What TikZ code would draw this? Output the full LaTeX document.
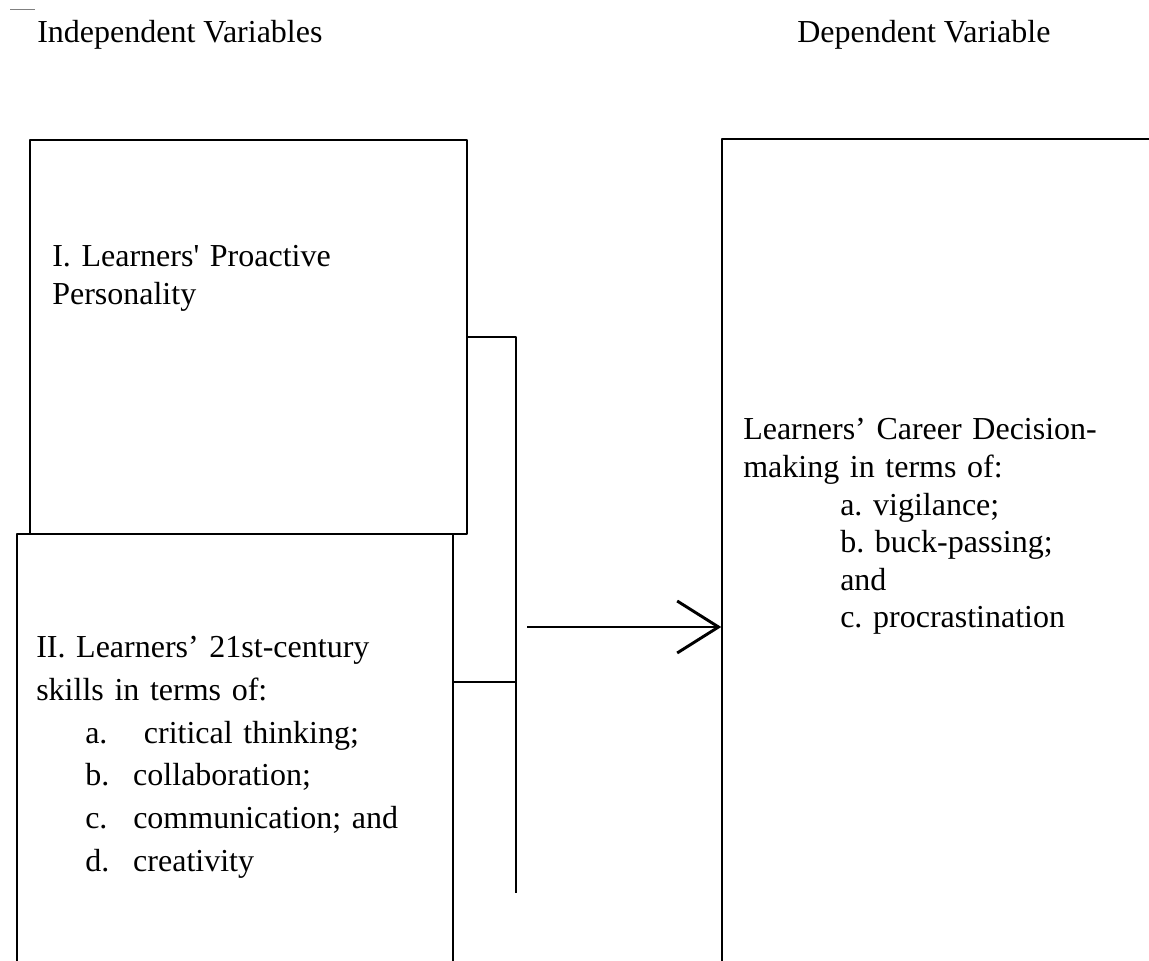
\documentclass[tikz,border=0pt]{standalone}
\usepackage{fontspec}
\setmainfont{Liberation Serif}
\usetikzlibrary{arrows.meta}

\begin{document}
\frenchspacing
\begin{tikzpicture}[>={Straight Barb[length=31bp,width=39bp]},line join=bevel,
  box/.style={draw,line width=1.1bp,inner sep=0pt},
  heading/.style={anchor=base west,inner sep=0pt,font=\fontsize{24bp}{28bp}\selectfont},
  block/.style={anchor=base west,inner sep=0pt,align=left,text width=300bp},
  ]
%%
\useasboundingbox (0bp,0bp) rectangle (861.75bp,720.75bp);
\clip (0bp,0bp) rectangle (861.75bp,720.75bp);
\draw [gray,line width=0.6bp] (7.5bp,713.6bp) -- (26.25bp,713.6bp);
%
\node (node_indep) at (27.75bp,688.5bp) [heading] {Independent Variables};
  \node (node_dep) at (597.75bp,688.5bp) [heading] {Dependent Variable};
%
\node (node_proactive) at (186.375bp,468bp) [box,minimum width=327.75bp,minimum height=295.5bp] {};
  \node (node_skills) at (176.25bp,145.5bp) [box,minimum width=327bp,minimum height=349.5bp] {};
  \node (node_decision) at (720.75bp,250.5bp) [box,minimum width=358.5bp,minimum height=732bp] {};
%
\node (text_proactive) at (39bp,520.5bp) [block,font=\fontsize{24bp}{28.5bp}\selectfont]
  {I. Learners\textquotesingle{} Proactive\\ Personality};
  \node (text_skills) at (27bp,227.25bp) [block,font=\fontsize{24bp}{32bp}\selectfont]
  {II. Learners’ 21st-century\\
   skills in terms of:\\
   \hspace*{36.75bp}\makebox[36bp][l]{a.}\ critical thinking;\\
   \hspace*{36.75bp}\makebox[36bp][l]{b.}collaboration;\\
   \hspace*{36.75bp}\makebox[36bp][l]{c.}communication; and\\
   \hspace*{36.75bp}\makebox[36bp][l]{d.}creativity};
  \node (text_decision) at (557.25bp,390.75bp) [block,font=\fontsize{24bp}{28.2bp}\selectfont]
  {Learners’ Career Decision-\\
   making in terms of:\\
   \hspace*{72.75bp}a. vigilance;\\
   \hspace*{72.75bp}b. buck-passing;\\
   \hspace*{72.75bp}and\\
   \hspace*{72.75bp}c. procrastination};
%
\coordinate (bar_top) at (387bp,468bp);
  \coordinate (bar_bottom) at (387bp,51bp);
  \coordinate (skills_join) at (387bp,209.25bp);
  \draw [black,line width=1bp] (node_proactive.east) -- (bar_top) -- (bar_bottom);
  \draw [black,line width=1bp] (node_skills.east |- skills_join) -- (skills_join);
%
\coordinate (arrow_start) at (395.25bp,250.5bp);
  \draw [black,->,line width=2.2bp] (arrow_start) -- (node_decision.west);
%
\end{tikzpicture}
\end{document}
